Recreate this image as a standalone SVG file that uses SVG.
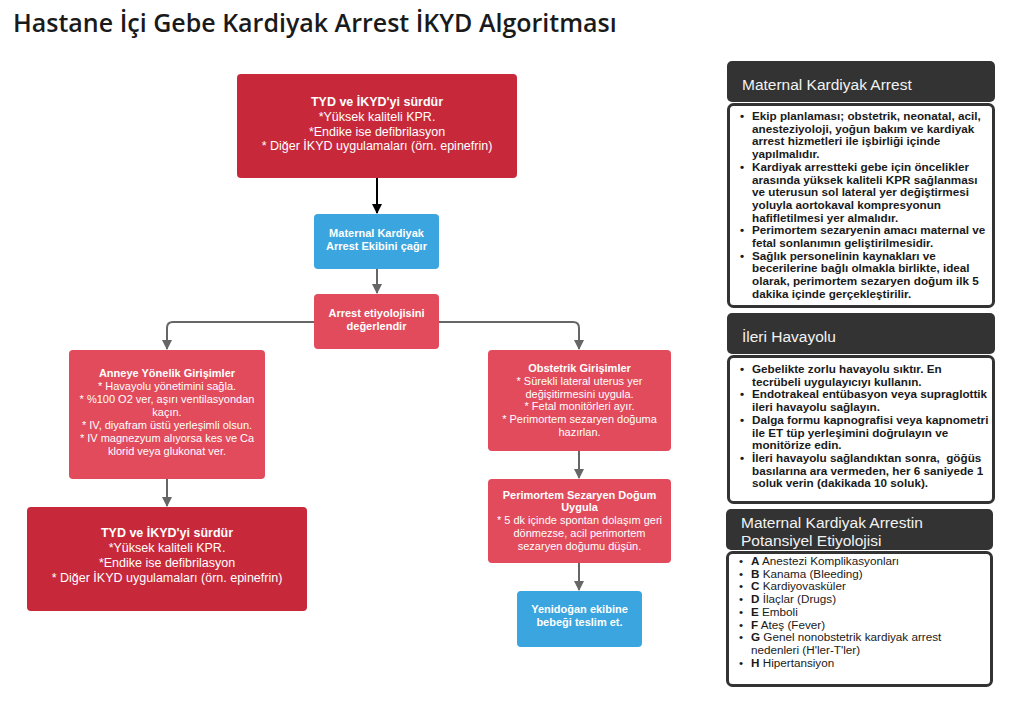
<svg xmlns="http://www.w3.org/2000/svg" width="1024" height="713" viewBox="0 0 1024 713">
<defs>
<style>
.t{font-family:"Liberation Sans",Arial,sans-serif;fill:#fff;text-anchor:middle}
.b{font-weight:bold}
.dr{fill:#c8293a}
.lr{fill:#e24b5b}
.bl{fill:#3aa5de}
.c{fill:none;stroke:#666;stroke-width:2}
.hd{fill:#333}
.bd{fill:#fff;stroke:#333;stroke-width:3}
.ht{font-family:"Liberation Sans",Arial,sans-serif;fill:#f2f2f2;font-size:15.5px}
.p{font-family:"Liberation Sans",Arial,sans-serif;fill:#1a1a1a;font-size:11.7px}
</style>
<marker id="ag" markerWidth="10" markerHeight="10" refX="9" refY="5" orient="auto" markerUnits="userSpaceOnUse"><path d="M0,0 L10,5 L0,10 z" fill="#666"/></marker>
<marker id="ak" markerWidth="10" markerHeight="10" refX="9" refY="5" orient="auto" markerUnits="userSpaceOnUse"><path d="M0,0 L10,5 L0,10 z" fill="#000"/></marker>
</defs>
<rect width="1024" height="713" fill="#fff"/>
<text x="13" y="32" font-family="'Open Sans',sans-serif" font-size="25" font-weight="600" fill="#1a1a1a">Hastane İçi Gebe Kardiyak Arrest İKYD Algoritması</text>

<g id="connectors">
<line x1="377" y1="178" x2="377" y2="213" stroke="#000" stroke-width="2" marker-end="url(#ak)"/>
<line class="c" x1="377" y1="269" x2="377" y2="293" marker-end="url(#ag)"/>
<path class="c" d="M314,322 H173 Q167,322 167,328 V349" marker-end="url(#ag)"/>
<path class="c" d="M439,322 H573 Q579,322 579,328 V349" marker-end="url(#ag)"/>
<line class="c" x1="167" y1="479" x2="167" y2="506" marker-end="url(#ag)"/>
<line class="c" x1="579" y1="451" x2="579" y2="478" marker-end="url(#ag)"/>
<line class="c" x1="579" y1="563" x2="579" y2="590" marker-end="url(#ag)"/>
</g>

<g id="n1">
<rect class="dr" x="237" y="74" width="280" height="104" rx="4"/>
<text class="t" font-size="12.5"><tspan class="b" x="377" y="106">TYD ve İKYD'yi sürdür</tspan><tspan x="377" y="121">*Yüksek kaliteli KPR.</tspan><tspan x="377" y="135.5">*Endike ise defibrilasyon</tspan><tspan x="377" y="150">* Diğer İKYD uygulamaları (örn. epinefrin)</tspan></text>
</g>

<g id="n2">
<rect class="bl" x="314" y="214" width="125" height="55" rx="4"/>
<text class="t b" font-size="11"><tspan x="376.5" y="237">Maternal Kardiyak</tspan><tspan x="376.5" y="250">Arrest Ekibini çağır</tspan></text>
</g>

<g id="n3">
<rect class="lr" x="314" y="294" width="125" height="55" rx="4"/>
<text class="t b" font-size="11"><tspan x="376.5" y="317">Arrest etiyolojisini</tspan><tspan x="376.5" y="330">değerlendir</tspan></text>
</g>

<g id="n4">
<rect class="lr" x="69" y="350" width="196" height="129" rx="4"/>
<text class="t" font-size="11"><tspan class="b" x="167" y="377">Anneye Yönelik Girişimler</tspan><tspan x="167" y="390">* Havayolu yönetimini sağla.</tspan><tspan x="167" y="403">* %100 O2 ver, aşırı ventilasyondan</tspan><tspan x="167" y="416">kaçın.</tspan><tspan x="167" y="429">* IV, diyafram üstü yerleşimli olsun.</tspan><tspan x="167" y="442">* IV magnezyum alıyorsa kes ve Ca</tspan><tspan x="167" y="455">klorid veya glukonat ver.</tspan></text>
</g>

<g id="n5">
<rect class="dr" x="27" y="507" width="280" height="104" rx="4"/>
<text class="t" font-size="12.5"><tspan class="b" x="167" y="537">TYD ve İKYD'yi sürdür</tspan><tspan x="167" y="552">*Yüksek kaliteli KPR.</tspan><tspan x="167" y="567">*Endike ise defibrilasyon</tspan><tspan x="167" y="582">* Diğer İKYD uygulamaları (örn. epinefrin)</tspan></text>
</g>

<g id="n6">
<rect class="lr" x="488" y="350" width="183" height="101" rx="4"/>
<text class="t" font-size="11"><tspan class="b" x="579.5" y="372">Obstetrik Girişimler</tspan><tspan x="579.5" y="384.5">* Sürekli lateral uterus yer</tspan><tspan x="579.5" y="397.5">değişitirmesini uygula.</tspan><tspan x="579.5" y="410">* Fetal monitörleri ayır.</tspan><tspan x="579.5" y="423">* Perimortem sezaryen doğuma</tspan><tspan x="579.5" y="436">hazırlan.</tspan></text>
</g>

<g id="n7">
<rect class="lr" x="488" y="479" width="183" height="84" rx="4"/>
<text class="t" font-size="11"><tspan class="b" x="579.5" y="498.5">Perimortem Sezaryen Doğum</tspan><tspan class="b" x="579.5" y="511">Uygula</tspan><tspan x="579.5" y="524">* 5 dk içinde spontan dolaşım geri</tspan><tspan x="579.5" y="537">dönmezse, acil perimortem</tspan><tspan x="579.5" y="550">sezaryen doğumu düşün.</tspan></text>
</g>

<g id="n8">
<rect class="bl" x="517" y="591" width="125" height="56" rx="4"/>
<text class="t b" font-size="11"><tspan x="579.5" y="613">Yenidoğan ekibine</tspan><tspan x="579.5" y="626">bebeği teslim et.</tspan></text>
</g>

<g id="p1">
<rect class="hd" x="727" y="61" width="268" height="41" rx="5"/>
<text class="ht" x="742" y="90">Maternal Kardiyak Arrest</text>
<rect class="bd" x="728.5" y="104.5" width="265" height="202" rx="5"/>
<text class="p b"><tspan x="740" y="120">•</tspan><tspan x="752" y="120">Ekip planlaması; obstetrik, neonatal, acil,</tspan><tspan x="752" y="132.7">anesteziyoloji, yoğun bakım ve kardiyak</tspan><tspan x="752" y="145.4">arrest hizmetleri ile işbirliği içinde</tspan><tspan x="752" y="158.1">yapılmalıdır.</tspan><tspan x="740" y="170.8">•</tspan><tspan x="752" y="170.8">Kardiyak arrestteki gebe için öncelikler</tspan><tspan x="752" y="183.5">arasında yüksek kaliteli KPR sağlanması</tspan><tspan x="752" y="196.2">ve uterusun sol lateral yer değiştirmesi</tspan><tspan x="752" y="208.9">yoluyla aortokaval kompresyonun</tspan><tspan x="752" y="221.6">hafifletilmesi yer almalıdır.</tspan><tspan x="740" y="234.3">•</tspan><tspan x="752" y="234.3">Perimortem sezaryenin amacı maternal ve</tspan><tspan x="752" y="247">fetal sonlanımın geliştirilmesidir.</tspan><tspan x="740" y="259.7">•</tspan><tspan x="752" y="259.7">Sağlık personelinin kaynakları ve</tspan><tspan x="752" y="272.4">becerilerine bağlı olmakla birlikte, ideal</tspan><tspan x="752" y="285.1">olarak, perimortem sezaryen doğum ilk 5</tspan><tspan x="752" y="297.8">dakika içinde gerçekleştirilir.</tspan></text>
</g>

<g id="p2">
<rect class="hd" x="727" y="313" width="268" height="41" rx="5"/>
<text class="ht" x="742" y="342">İleri Havayolu</text>
<rect class="bd" x="728.5" y="356.5" width="265" height="146" rx="5"/>
<text class="p b" xml:space="preserve"><tspan x="740" y="373">•</tspan><tspan x="752" y="373">Gebelikte zorlu havayolu sıktır. En</tspan><tspan x="752" y="385.7">tecrübeli uygulayıcıyı kullanın.</tspan><tspan x="740" y="398.4">•</tspan><tspan x="752" y="398.4">Endotrakeal entübasyon veya supraglottik</tspan><tspan x="752" y="411.1">ileri havayolu sağlayın.</tspan><tspan x="740" y="423.8">•</tspan><tspan x="752" y="423.8">Dalga formu kapnografisi veya kapnometri</tspan><tspan x="752" y="436.5">ile ET tüp yerleşimini doğrulayın ve</tspan><tspan x="752" y="449.2">monitörize edin.</tspan><tspan x="740" y="461.9">•</tspan><tspan x="752" y="461.9">İleri havayolu sağlandıktan sonra,  göğüs</tspan><tspan x="752" y="474.6">basılarına ara vermeden, her 6 saniyede 1</tspan><tspan x="752" y="487.3">soluk verin (dakikada 10 soluk).</tspan></text>
</g>

<g id="p3">
<rect class="hd" x="726" y="509" width="267" height="41" rx="5"/>
<text class="ht"><tspan x="741" y="528">Maternal Kardiyak Arrestin</tspan><tspan x="741" y="546">Potansiyel Etiyolojisi</tspan></text>
<rect class="bd" x="727.5" y="552.5" width="264" height="133" rx="5"/>
<text class="p"><tspan x="739" y="565">•</tspan><tspan x="751" y="565" font-weight="bold">A</tspan><tspan> Anestezi Komplikasyonları</tspan><tspan x="739" y="577.7">•</tspan><tspan x="751" y="577.7" font-weight="bold">B</tspan><tspan> Kanama (Bleeding)</tspan><tspan x="739" y="590.4">•</tspan><tspan x="751" y="590.4" font-weight="bold">C</tspan><tspan> Kardiyovasküler</tspan><tspan x="739" y="603.1">•</tspan><tspan x="751" y="603.1" font-weight="bold">D</tspan><tspan> İlaçlar (Drugs)</tspan><tspan x="739" y="615.8">•</tspan><tspan x="751" y="615.8" font-weight="bold">E</tspan><tspan> Emboli</tspan><tspan x="739" y="628.5">•</tspan><tspan x="751" y="628.5" font-weight="bold">F</tspan><tspan> Ateş (Fever)</tspan><tspan x="739" y="641.2">•</tspan><tspan x="751" y="641.2" font-weight="bold">G</tspan><tspan> Genel nonobstetrik kardiyak arrest</tspan><tspan x="751" y="653.9">nedenleri (H'ler-T'ler)</tspan><tspan x="739" y="666.6">•</tspan><tspan x="751" y="666.6" font-weight="bold">H</tspan><tspan> Hipertansiyon</tspan></text>
</g>
</svg>
